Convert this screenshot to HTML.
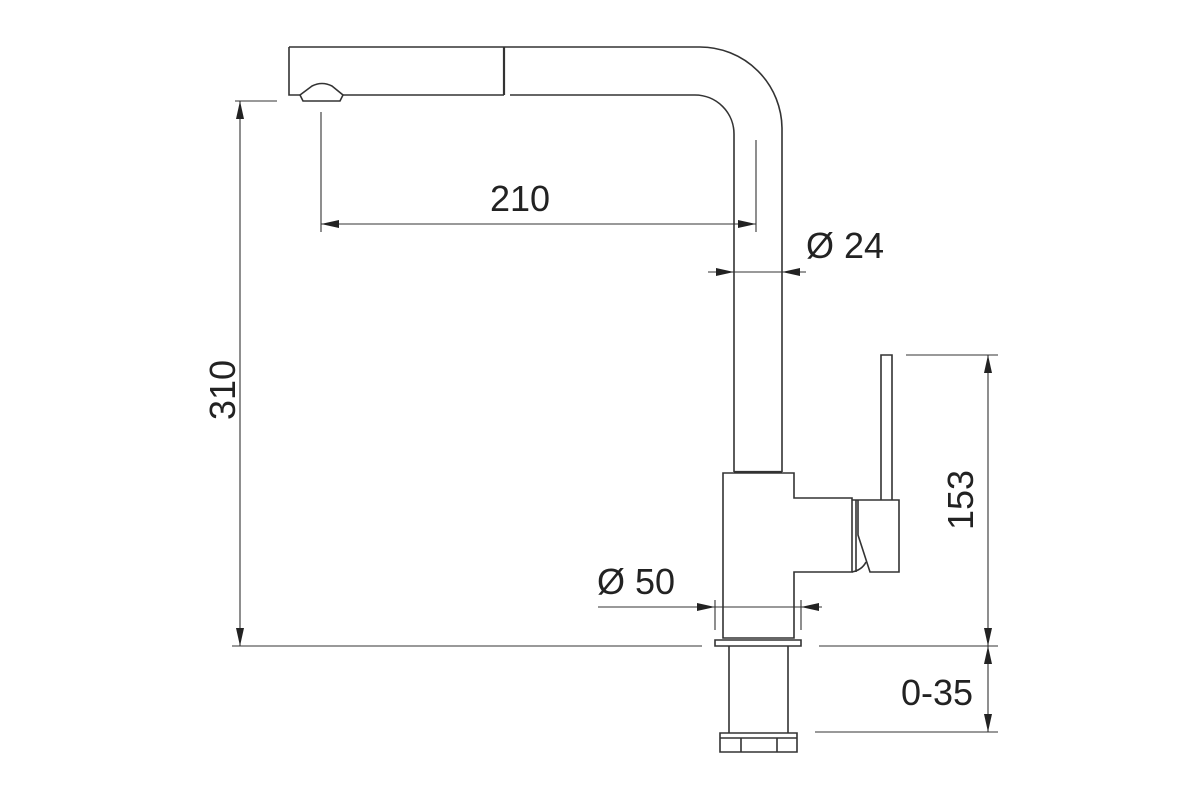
<!DOCTYPE html>
<html><head><meta charset="utf-8"><style>body{margin:0;background:#fff}svg{display:block}</style></head><body>
<svg width="1200" height="800" viewBox="0 0 1200 800" xmlns="http://www.w3.org/2000/svg">
<defs>
<marker id="b" viewBox="0 0 18 8" refX="18" refY="4" markerWidth="18" markerHeight="8" markerUnits="userSpaceOnUse" orient="auto-start-reverse"><path d="M0,0L18,4L0,8z" fill="#222"/></marker>
</defs>
<g fill="none" stroke="#333" stroke-width="1.6">
<path d="M289,47 H700 A82,82 0 0 1 782,129 V472"/>
<path d="M289,47 V95 H300"/>
<path d="M343,95 H504"/>
<path d="M504,47 V95" stroke-width="2.2"/>
<path d="M510,95 H695 A39,39 0 0 1 734,134 V472"/>
<path d="M300,95 L312,86 Q322,81 332,86 L343,95 L340,101 H303 Z"/>
<path d="M734,472 H782" stroke-width="2.2"/>
<path d="M723,473 H794 V498 H852 V572 H794 V638 H723 Z"/>
<path d="M715,640 H801 V646 H715 Z"/>
<path d="M729,646 V733 M788,646 V733"/>
<path d="M720,733 H797 V752 H720 Z M720,738 H797 M741,738 V752 M777,738 V752"/>
<path d="M852,500 H899 V572 H870 L858,535 V500"/>
<path d="M856,500 V572 M852,572 Q862,570 866,562"/>
<path d="M881,500 V355 H892 V500"/>
</g>
<g fill="none" stroke="#333" stroke-width="1.1">
<path d="M235,101 H277"/>
<line x1="240" y1="101" x2="240" y2="646" marker-start="url(#b)" marker-end="url(#b)"/>
<path d="M232,646 H702 M819,646 H998 M815,732 H998 M906,355 H998"/>
<path d="M321,112 V232 M756,140 V232"/>
<line x1="321" y1="224" x2="756" y2="224" marker-start="url(#b)" marker-end="url(#b)"/>
<line x1="708" y1="272" x2="734" y2="272" marker-end="url(#b)"/>
<line x1="734" y1="272" x2="782" y2="272"/>
<line x1="806" y1="272" x2="782" y2="272" marker-end="url(#b)"/>
<line x1="598" y1="607" x2="715" y2="607" marker-end="url(#b)"/>
<line x1="715" y1="607" x2="801" y2="607"/>
<line x1="822" y1="607" x2="801" y2="607" marker-end="url(#b)"/>
<path d="M715,600 V630 M801,600 V630"/>
<line x1="988" y1="355" x2="988" y2="646" marker-start="url(#b)" marker-end="url(#b)"/>
<line x1="988" y1="646" x2="988" y2="732" marker-start="url(#b)" marker-end="url(#b)"/>
</g>
<g font-family="Liberation Sans, sans-serif" font-size="36" fill="#222">
<text x="520" y="211" text-anchor="middle">210</text>
<text x="806" y="258">Ø 24</text>
<text x="597" y="594">Ø 50</text>
<text x="973" y="705" text-anchor="end">0-35</text>
<text transform="translate(235,390) rotate(-90)" text-anchor="middle">310</text>
<text transform="translate(973,500) rotate(-90)" text-anchor="middle">153</text>
</g>
</svg>
</body></html>
